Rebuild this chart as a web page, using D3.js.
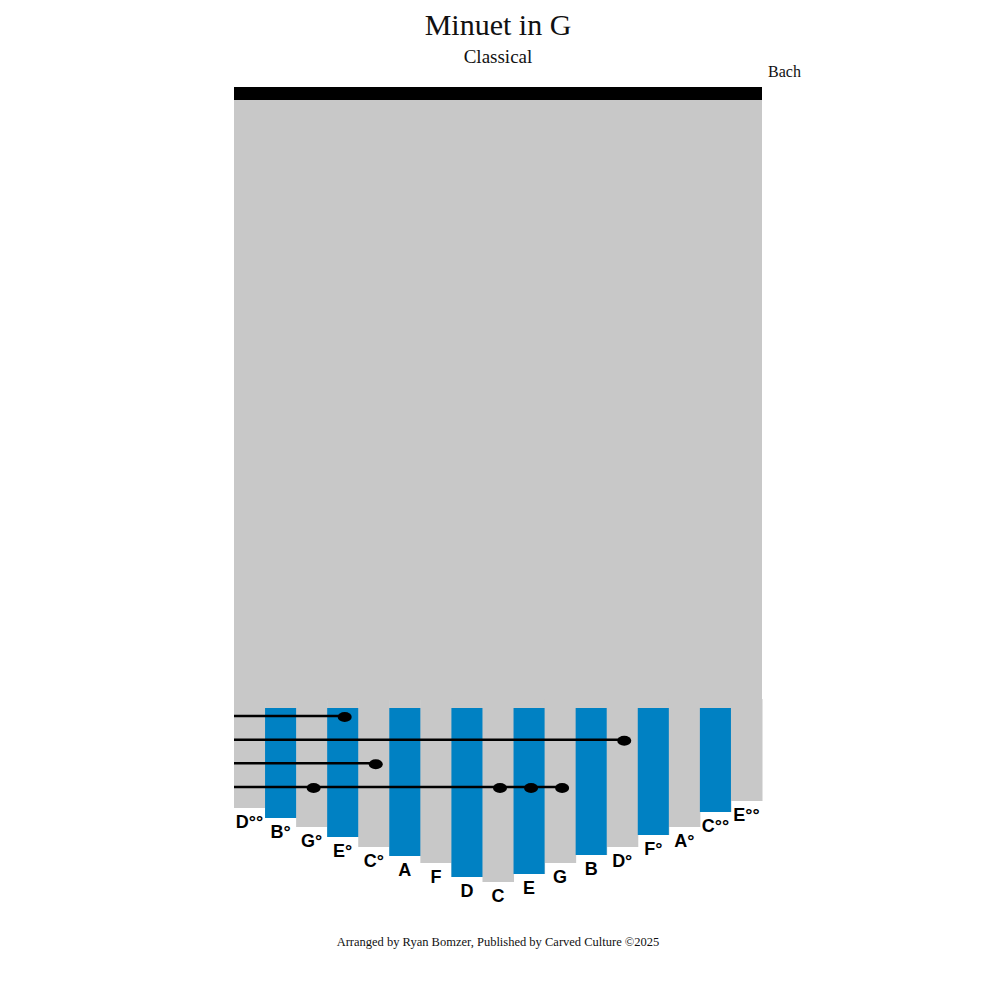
<!DOCTYPE html><html><head><meta charset="utf-8"><script src="https://cdn.jsdelivr.net/npm/d3@7"></script>
<style>body{margin:0;background:#fff}</style></head><body><svg id="c" width="1000" height="1000"></svg>
<script>
const notes=["D°°","B°","G°","E°","C°","A","F","D","C","E","G","B","D°","F°","A°","C°°","E°°"];
const lengths=[108,118,127,137,147,156,163,177,182,174,163,155,147,135,127,112,101];
// note rows (beat order top to bottom) : tine indices
const rows=[[3],[12],[4],[2,8,9,10]];
const svg=d3.select("#c");
const x=d3.scaleBand().domain(d3.range(notes.length)).range([234,762]);
const len=d3.scaleLinear().domain([0,200]).range([700,900]);
const beat=d3.scalePoint().domain(d3.range(rows.length)).range([716,787]);
svg.append("rect").attr("x",234).attr("y",100).attr("width",528).attr("height",600).attr("fill","#c8c8c8");
svg.append("rect").attr("x",234).attr("y",87).attr("width",528).attr("height",13).attr("fill","#000");
svg.selectAll(".g").data(notes).join("rect").attr("x",(d,i)=>x(i)).attr("y",699).attr("width",x.bandwidth()+0.5)
 .attr("height",(d,i)=>len(lengths[i])-699).attr("fill","#c8c8c8");
svg.selectAll(".b").data(notes.filter((d,i)=>i%2)).join("rect").attr("x",(d,j)=>x(2*j+1)).attr("y",708).attr("width",x.bandwidth())
 .attr("height",(d,j)=>len(lengths[2*j+1])-708).attr("fill","#0081c3");
svg.selectAll(".l").data(notes).join("text").attr("x",(d,i)=>x(i)+x.bandwidth()/2).attr("y",(d,i)=>len(lengths[i])+20)
 .attr("text-anchor","middle").attr("font-family","Liberation Sans, Arial").attr("font-weight","bold").attr("font-size",18).text(d=>d);
rows.forEach((r,k)=>{
 const y=beat(k), mx=d3.max(r,i=>x(i)+x.bandwidth()/2);
 svg.append("line").attr("x1",234).attr("x2",mx).attr("y1",y).attr("y2",y).attr("stroke","#000").attr("stroke-width",2.5);
 r.forEach(i=>svg.append("ellipse").attr("cx",x(i)+x.bandwidth()/2+2).attr("cy",y+1).attr("rx",7).attr("ry",5).attr("fill","#000"));
});
const t=(s,xx,y,fs,a)=>svg.append("text").attr("x",xx).attr("y",y).attr("font-family","Liberation Serif, Times New Roman").attr("font-size",fs).attr("text-anchor",a||"middle").attr("fill","#111").text(s);
t("Minuet in G",498,35,30);t("Classical",498,63,19);t("Bach",768,77,16,"start");
t("Arranged by Ryan Bomzer, Published by Carved Culture ©2025",498,946,12.5);
</script></body></html>
